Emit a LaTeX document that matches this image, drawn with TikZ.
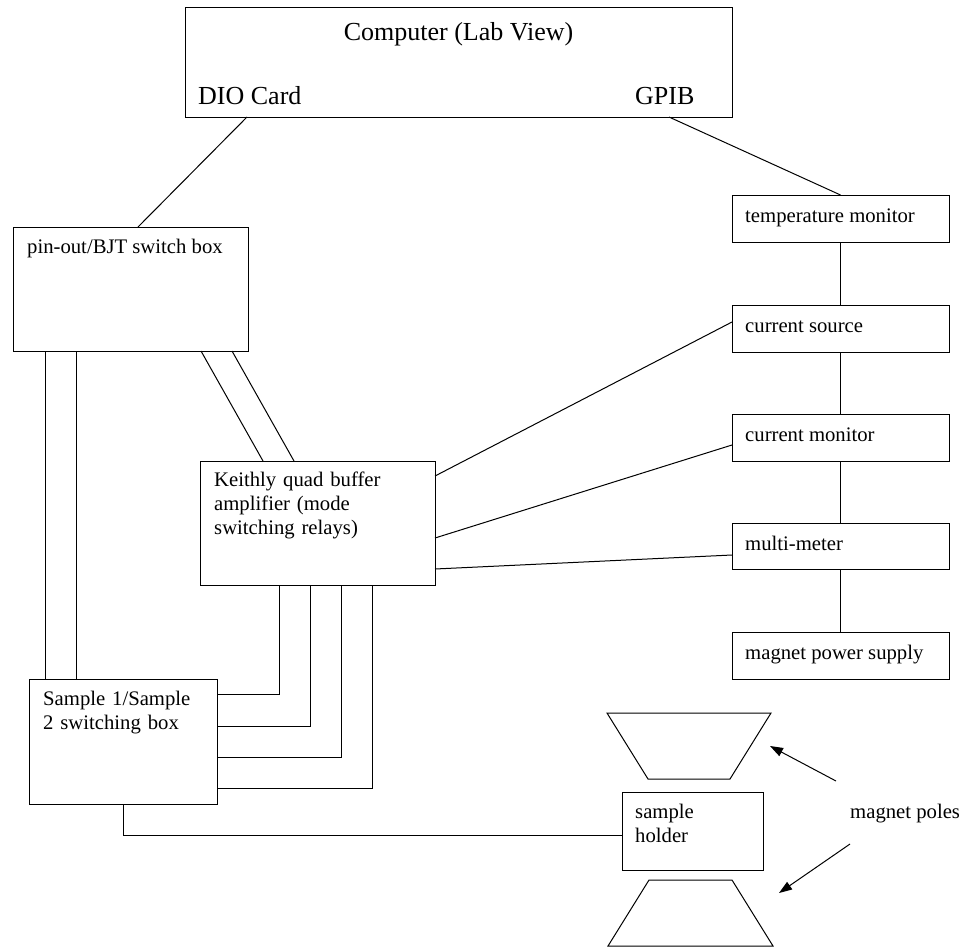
\documentclass[tikz,border=0pt]{standalone}
\usepackage{fontspec}
\setmainfont{Liberation Serif}
\usetikzlibrary{arrows.meta}
\begin{document}
\begin{tikzpicture}[x=1pt,y=-1pt,
  box/.style={draw,line width=1pt,inner sep=0pt,outer sep=0pt,anchor=north west},
  big/.style={font=\fontsize{26}{30}\selectfont,inner sep=0pt},
  txt/.style={font=\fontsize{20.7}{24}\selectfont,inner sep=0pt,anchor=base west,align=left},
  wire/.style={line width=1pt},
  pointer/.style={line width=1pt,-{Triangle[length=13pt,width=9pt]}}]
\useasboundingbox (0,0) rectangle (965,950);
% boxes
\node[box,minimum width=547pt,minimum height=109pt] (comp) at (185,8) {};
\node[box,minimum width=235pt,minimum height=124pt] (pin) at (13,227) {};
\node[box,minimum width=235pt,minimum height=124pt] (keith) at (200,461) {};
\node[box,minimum width=188pt,minimum height=125pt] (samp) at (29,679) {};
\node[box,minimum width=217pt,minimum height=47pt] (temp) at (732,195) {};
\node[box,minimum width=217pt,minimum height=47pt] (cs) at (732,305) {};
\node[box,minimum width=217pt,minimum height=47pt] (cm) at (732,414) {};
\node[box,minimum width=217pt,minimum height=46pt] (mm) at (732,523) {};
\node[box,minimum width=217pt,minimum height=47pt] (mps) at (732,632) {};
\node[box,minimum width=141pt,minimum height=78pt] (holder) at (622,792) {};
% texts
\node[big,anchor=base] (compt) at (458.5,41) {Computer (Lab View)};
\node[big,anchor=base west] (dio) at (198,104) {DIO Card};
\node[big,anchor=base west] (gpib) at (635,104) {GPIB};
\node[txt] (pint) at (27,253) {pin-out/BJT switch box};
\node[txt,text width=220pt] (keitht) at (214,486) {Keithly quad buffer\\amplifier (mode\\switching relays)};
\node[txt,text width=180pt] (sampt) at (43,705) {Sample 1/Sample\\2 switching box};
\node[txt] (tempt) at (745,222) {temperature monitor};
\node[txt] (cst) at (745,332) {current source};
\node[txt] (cmt) at (745,441) {current monitor};
\node[txt] (mmt) at (745,550) {multi-meter};
\node[txt] (mpst) at (745,659) {magnet power supply};
\node[txt,text width=120pt] (holdert) at (635,818) {sample\\holder};
\node[txt] (poles) at (850,818) {magnet poles};
% magnet pole pieces
\draw[wire] (607,713) -- (771,713) -- (730,779) -- (648,779) -- cycle;
\draw[wire] (649,880) -- (732,880) -- (773,946) -- (608,946) -- cycle;
\coordinate (upA) at (836,781);
\coordinate (upB) at (770,746);
\coordinate (loA) at (850,844);
\coordinate (loB) at (779,893);
\draw[pointer] (upA) -- (upB);
\draw[pointer] (loA) -- (loB);
% connectors
\draw[wire] ([xshift=62pt]comp.south west) -- ([xshift=125pt]pin.north west);
\draw[wire] ([xshift=-63pt]comp.south east) -- (temp.north);
\draw[wire] (temp.south) -- (cs.north);
\draw[wire] (cs.south) -- (cm.north);
\draw[wire] (cm.south) -- (mm.north);
\draw[wire] (mm.south) -- (mps.north);
\draw[wire] ([xshift=32pt]pin.south west) -- ([xshift=32pt]pin.south west |- samp.north);
\draw[wire] ([xshift=63pt]pin.south west) -- ([xshift=63pt]pin.south west |- samp.north);
\draw[wire] ([xshift=188pt]pin.south west) -- ([xshift=63pt]keith.north west);
\draw[wire] ([xshift=219pt]pin.south west) -- ([xshift=94pt]keith.north west);
\draw[wire] ([xshift=79pt]keith.south west) |- ([yshift=-15pt]samp.north east);
\draw[wire] ([xshift=110pt]keith.south west) |- ([yshift=-47pt]samp.north east);
\draw[wire] ([xshift=141pt]keith.south west) |- ([yshift=-78pt]samp.north east);
\draw[wire] ([xshift=172pt]keith.south west) |- ([yshift=-109pt]samp.north east);
\draw[wire] ([yshift=-15pt]keith.north east) -- ([yshift=-17pt]cs.north west);
\draw[wire] ([yshift=-77pt]keith.north east) -- ([yshift=-31pt]cm.north west);
\draw[wire] ([yshift=-108pt]keith.north east) -- ([yshift=-32pt]mm.north west);
\draw[wire] ([xshift=94pt]samp.south west) |- ([yshift=-4pt]holder.west);
\end{tikzpicture}
\end{document}
